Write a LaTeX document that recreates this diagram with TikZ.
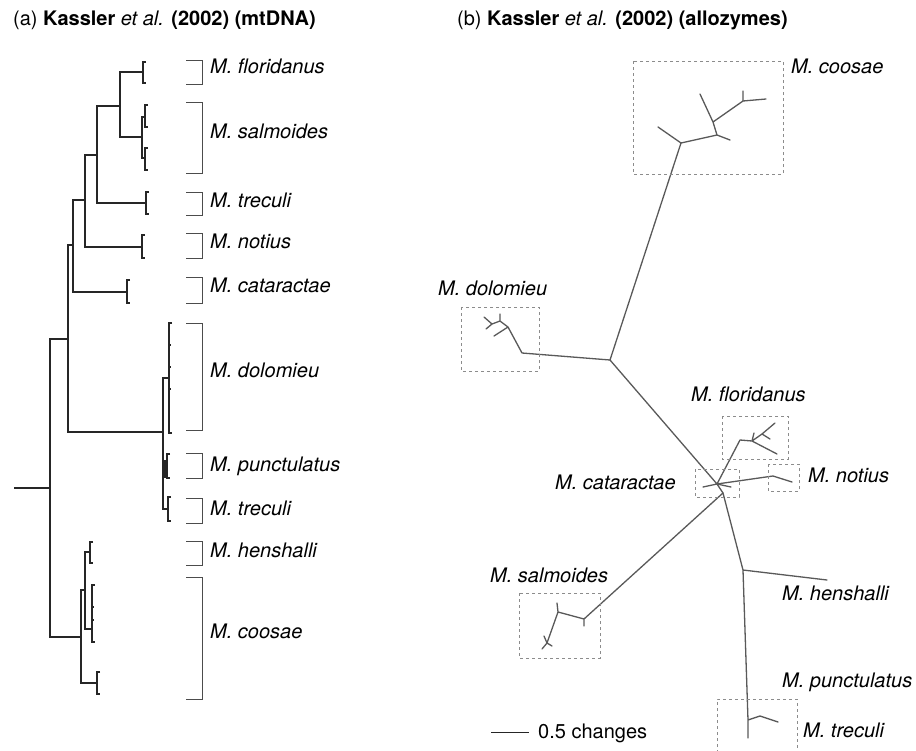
\documentclass[tikz,border=0pt]{standalone}
\usepackage{fontspec}
\setmainfont{TeX Gyre Heros}
\newcommand{\tipbar}[3]{\draw[tipline] (#1+3,#2) -- (#1,#2) -- (#1,#3) -- (#1+3,#3);}
\newcommand{\spbar}[2]{\draw[bracket] (186,#1) -- (202,#1) -- (202,#2) -- (186,#2);}

\begin{document}
\begin{tikzpicture}[
    x=1pt, y=-1pt,
    branch/.style={draw=black!85, line width=1.6pt},
    tipline/.style={draw=black!85, line width=1.2pt},
    bracket/.style={draw=black!70, line width=1pt},
    edge/.style={draw=black!65, line width=1.3pt, line cap=round},
    clade/.style={draw=black!45, line width=0.8pt, dash pattern=on 3pt off 3pt},
    taxon/.style={font=\fontsize{20}{24}\selectfont\itshape, inner sep=0pt, anchor=base west},
    caption/.style={font=\fontsize{20}{24}\selectfont, inner sep=0pt, anchor=base west}
]
\useasboundingbox (0,0) rectangle (916,750);

% Titles
\node[caption] (titlea) at (13,25) {(a) \textbf{Kassler} \textit{et al.} \textbf{(2002) (mtDNA)}};
\node[caption] (titleb) at (457,25) {(b) \textbf{Kassler} \textit{et al.} \textbf{(2002) (allozymes)}};

% (a) mtDNA tree
\coordinate (stem) at (14,488);
\coordinate (root) at (50,488);
\coordinate (na) at (68,339);
\coordinate (nb) at (73,245);
\coordinate (nc) at (85,200);
\coordinate (nd) at (97,155);
\coordinate (ne) at (120,106);
\coordinate (nf) at (142,137);
\coordinate (flo) at (143,72);
\coordinate (sal1) at (145,117);
\coordinate (sal2) at (145,158);
\coordinate (tre1) at (146,203);
\coordinate (not) at (142,247);
\coordinate (cat) at (127,292);
\coordinate (mid) at (163,432);
\coordinate (dol) at (169,378);
\coordinate (pun) at (166,466);
\coordinate (tre2) at (168,509);
\coordinate (low) at (81,637);
\coordinate (ng) at (85,590);
\coordinate (hen) at (90,552);
\coordinate (coo1) at (92,629);
\coordinate (coo2) at (97,683);

\draw[branch] (stem) -- (root);
\draw[branch] (root) |- (na) (root) |- (low);
\draw[branch] (na) |- (nb) (na) |- (mid);
\draw[branch] (nb) |- (nc) (nb) |- (cat);
\draw[branch] (nc) |- (nd) (nc) |- (not);
\draw[branch] (nd) |- (ne) (nd) |- (tre1);
\draw[branch] (ne) |- (flo) (ne) |- (nf);
\draw[branch] (nf) |- (sal1) (nf) |- (sal2);
\draw[branch] (mid) |- (dol) (mid) |- (pun) (mid) |- (tre2);
\draw[branch] (low) |- (ng) (low) |- (coo2);
\draw[branch] (ng) |- (hen) (ng) |- (coo1);

% tips
\tipbar{143}{62}{83}
\tipbar{145}{105}{127}
\tipbar{145}{148}{170}
\tipbar{146}{192}{214}
\tipbar{142}{235}{258}
\tipbar{127}{280}{303}
\tipbar{169}{323}{433}
\foreach \y in {345,367,389} \draw[tipline] (169,\y) -- (171,\y);
\tipbar{167}{454}{478}
\draw[branch, line width=3pt] (165,460) -- (165,478);
\tipbar{168}{497}{521}
\tipbar{90}{542}{563}
\tipbar{92}{585}{642}
\foreach \y in {607,620} \draw[tipline] (92,\y) -- (94,\y);
\tipbar{97}{672}{694}

% species brackets
\spbar{60}{84}
\spbar{102}{173}
\spbar{192}{215}
\spbar{233}{258}
\spbar{277}{303}
\spbar{323}{430}
\spbar{453}{478}
\spbar{498}{523}
\spbar{541}{565}
\spbar{577}{699}

\node[taxon] (lflo) at (210,73) {M. floridanus};
\node[taxon] (lsal) at (210,138) {M. salmoides};
\node[taxon] (ltre1) at (210,207) {M. treculi};
\node[taxon] (lnot) at (210,248) {M. notius};
\node[taxon] (lcat) at (210,292) {M. cataractae};
\node[taxon] (ldol) at (210,377) {M. dolomieu};
\node[taxon] (lpun) at (210,471) {M. punctulatus};
\node[taxon] (ltre2) at (210,515) {M. treculi};
\node[taxon] (lhen) at (210,557) {M. henshalli};
\node[taxon] (lcoo) at (210,638) {M. coosae};

% (b) allozyme network
\coordinate (hubA) at (610,360);
\coordinate (cooB) at (681,143);
\coordinate (cooT1) at (658,127);
\coordinate (cooC) at (717,135);
\coordinate (cooT2) at (730,140);
\coordinate (cooD) at (713,122);
\coordinate (cooT3) at (700,94);
\coordinate (cooE) at (743,101);
\coordinate (cooT4) at (743,91);
\coordinate (cooT5) at (766,99);
\coordinate (dolF) at (522,353);
\coordinate (dolG) at (508,327);
\coordinate (dolT1) at (494,336);
\coordinate (dolH) at (500,321);
\coordinate (dolT2) at (500,314);
\coordinate (dolI) at (492,324);
\coordinate (dolT3) at (484,317);
\coordinate (dolT4) at (486,329);
\coordinate (hubK) at (717,484);
\coordinate (catT1) at (703,487);
\coordinate (catT2) at (731,487);
\coordinate (floL) at (740,440);
\coordinate (floM) at (752,441);
\coordinate (floT1) at (777,454);
\coordinate (floN) at (762,434);
\coordinate (floT2) at (775,423);
\coordinate (floT3) at (770,439);
\coordinate (floT4) at (754,433);
\coordinate (notO) at (773,476);
\coordinate (notT) at (792,482);
\coordinate (hubP) at (723,493);
\coordinate (salQ) at (584,619);
\coordinate (salT0) at (584,626);
\coordinate (salR) at (558,612);
\coordinate (salT1) at (557,603);
\coordinate (salS) at (547,643);
\coordinate (salT2) at (542,649);
\coordinate (salT3) at (544,636);
\coordinate (salT4) at (552,646);
\coordinate (hubT) at (743,570);
\coordinate (henT) at (827,580);
\coordinate (treU) at (748,720);
\coordinate (treV) at (760,716);
\coordinate (treT1) at (778,722);
\coordinate (treT2) at (748,738);

\draw[edge] (hubA) -- (cooB) (cooB) -- (cooT1) (cooB) -- (cooC) (cooC) -- (cooT2)
    (cooC) -- (cooD) (cooD) -- (cooT3) (cooD) -- (cooE) (cooE) -- (cooT4) (cooE) -- (cooT5);
\draw[edge] (hubA) -- (dolF) (dolF) -- (dolG) (dolG) -- (dolT1) (dolG) -- (dolH)
    (dolH) -- (dolT2) (dolH) -- (dolI) (dolI) -- (dolT3) (dolI) -- (dolT4);
\draw[edge] (hubA) -- (hubK) (hubK) -- (catT1) (hubK) -- (catT2);
\draw[edge] (hubK) -- (floL) (floL) -- (floM) (floM) -- (floT1) (floM) -- (floN)
    (floN) -- (floT2) (floN) -- (floT3) (floM) -- (floT4);
\draw[edge] (hubK) -- (notO) (notO) -- (notT);
\draw[edge] (hubK) -- (hubP) (hubP) -- (salQ) (salQ) -- (salT0) (salQ) -- (salR)
    (salR) -- (salT1) (salR) -- (salS) (salS) -- (salT2) (salS) -- (salT3) (salS) -- (salT4);
\draw[edge] (hubP) -- (hubT) (hubT) -- (henT) (hubT) -- (treU) (treU) -- (treV)
    (treV) -- (treT1) (treU) -- (treT2);

% clade boxes
\draw[clade] (633,61) rectangle (783,174);
\draw[clade] (461,307) rectangle (539,371);
\draw[clade] (722,416) rectangle (788,459);
\draw[clade] (695,469) rectangle (739,497);
\draw[clade] (768,464) rectangle (799,491);
\draw[clade] (519,593) rectangle (600,658);
\draw[clade] (717,753) |- (797,699) -- (797,753);

\node[taxon] (rcoo) at (791,73) {M. coosae};
\node[taxon] (rdol) at (438,295) {M. dolomieu};
\node[taxon] (rflo) at (691,401) {M. floridanus};
\node[taxon] (rcat) at (555,489) {M. cataractae};
\node[taxon] (rnot) at (808,482) {M. notius};
\node[taxon] (rsal) at (490,582) {M. salmoides};
\node[taxon] (rhen) at (782,600) {M. henshalli};
\node[taxon] (rpun) at (782,687) {M. punctulatus};
\node[taxon] (rtre) at (803,737) {M. treculi};

% scale
\coordinate (bar0) at (491,732);
\coordinate (bar1) at (529,732);
\draw[draw=black!85, line width=1pt] (bar0) -- (bar1);
\node[caption] (scale) at (538,738) {0.5 changes};

\end{tikzpicture}
\end{document}
